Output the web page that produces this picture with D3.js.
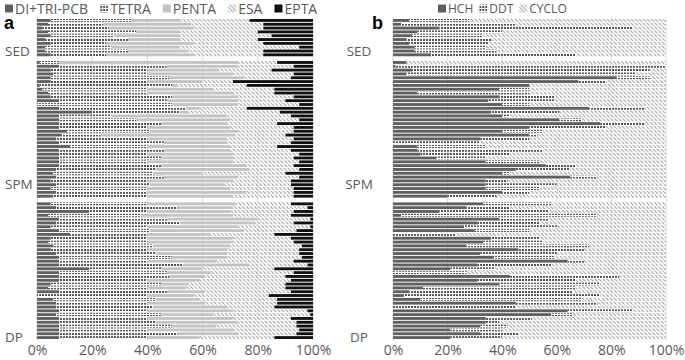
<!DOCTYPE html>
<html>
<head>
<meta charset="utf-8">
<script src="https://cdn.jsdelivr.net/npm/d3@7"></script>
<style>
  body { margin: 0; background: #fff; }
  text { font-family: "Open Sans", sans-serif; fill: #595959; }
</style>
</head>
<body>
<svg id="chart" width="685" height="360"></svg>
<script>
// Sample groups (top to bottom) and how many samples each one holds
const groups = ['SED', 'SPM', 'DP'];
const groupSizes = [10, 36, 36];
// row of each group that carries the category label
const labelRowIndex = [8, 32, 35];

// Panel a: PCB homologue shares (%), one value per sample, top to bottom
const pcbKeys = ['DI+TRI-PCB', 'TETRA', 'PENTA', 'ESA', 'EPTA'];
const diTri = [
  5, 4, 2, 4, 5, 3, 5, 3, 3, 5,
  1, 8, 5, 6, 5, 5, 1, 2, 4, 5, 8, 0, 8, 20, 8, 8, 8, 8, 11, 9, 7, 8, 12, 8, 8, 8, 8, 8, 7, 6, 7, 5, 7, 5, 7, 6,
  5, 7, 19, 4, 8, 7, 5, 8, 12, 5, 4, 6, 5, 7, 8, 8, 8, 19, 8, 8, 8, 5, 4, 8, 0, 6, 7, 7, 8, 7, 8, 8, 8, 8, 8, 8
];
const tetra = [
  29, 20, 24, 32, 23, 30, 20, 24, 30, 20,
  7, 39, 35, 34, 43, 35, 48, 38, 36, 44, 39, 49, 46, 32, 19, 28, 37, 32, 30, 14, 33, 38, 28, 38, 32, 37, 32, 37, 36, 36, 39, 35, 34, 35, 33, 34,
  35, 44, 21, 34, 39, 45, 35, 33, 28, 35, 36, 36, 35, 36, 41, 32, 45, 26, 39, 40, 32, 40, 36, 39, 40, 37, 33, 35, 32, 38, 32, 35, 41, 32, 43, 32
];
const penta = [
  18, 32, 31, 16, 24, 19, 32, 25, 22, 32,
  65, 26, 26, 31, 27, 20, 2, 24, 31, 24, 26, 24, 5, 3, 42, 34, 24, 30, 32, 49, 29, 23, 30, 24, 31, 26, 31, 31, 34, 18, 27, 31, 27, 30, 36, 31,
  32, 20, 30, 33, 33, 27, 33, 34, 23, 31, 31, 28, 29, 26, 20, 25, 24, 15, 16, 13, 19, 10, 14, 14, 17, 16, 21, 27, 31, 19, 31, 30, 16, 31, 22, 19
];
const esa = [
  25, 26, 25, 28, 33, 28, 25, 43, 27, 25,
  14, 20, 19, 22, 17, 11, 25, 22, 15, 20, 17, 22, 17, 33, 23, 25, 18, 23, 20, 18, 24, 23, 17, 22, 24, 22, 24, 17, 18, 30, 22, 21, 24, 23, 17, 22,
  20, 27, 23, 21, 19, 14, 26, 19, 23, 21, 22, 26, 26, 26, 27, 28, 21, 26, 30, 29, 33, 35, 36, 31, 27, 28, 26, 17, 27, 35, 21, 21, 29, 24, 21, 27
];
const epta = [
  23, 18, 18, 20, 15, 20, 18, 5, 18, 18,
  13, 7, 15, 7, 8, 29, 24, 14, 14, 7, 10, 5, 24, 12, 8, 5, 13, 7, 7, 10, 7, 8, 13, 8, 5, 7, 5, 7, 5, 10, 5, 8, 8, 7, 7, 7,
  8, 2, 7, 8, 1, 7, 1, 6, 14, 8, 7, 4, 5, 5, 4, 7, 2, 14, 7, 10, 8, 10, 10, 8, 16, 13, 13, 14, 2, 1, 8, 6, 6, 5, 6, 14
];

// Panel b: organochlorine pesticide shares (%)
const ocpKeys = ['HCH', 'DDT', 'CYCLO'];
const hch = [
  6, 3, 17, 9, 7, 5, 6, 8, 8, 14,
  5, 1, 7, 5, 82, 68, 50, 39, 9, 39, 35, 40, 72, 36, 40, 61, 76, 50, 40, 50, 32, 0, 9, 9, 10, 16, 34, 56, 45, 40, 65, 34, 34, 34, 40, 20,
  33, 27, 17, 3, 39, 31, 26, 30, 0, 36, 33, 27, 46, 32, 37, 64, 31, 21, 0, 43, 31, 39, 11, 6, 4, 10, 45, 0, 64, 58, 34, 34, 32, 21, 32, 21
];
const ddt = [
  22, 42, 71, 31, 26, 31, 29, 26, 30, 53,
  0, 99, 87, 84, 12, 10, 0, 11, 41, 20, 24, 10, 20, 25, 3, 8, 16, 28, 15, 3, 18, 32, 25, 46, 33, 18, 20, 11, 20, 3, 10, 8, 26, 20, 10, 18,
  25, 16, 40, 72, 18, 23, 34, 20, 23, 18, 22, 45, 24, 28, 22, 6, 27, 16, 27, 40, 36, 37, 56, 60, 72, 59, 30, 45, 24, 8, 17, 5, 10, 19, 14, 19
];
const cyclo = [
  72, 55, 12, 60, 67, 64, 65, 66, 62, 33,
  95, 0, 6, 11, 6, 22, 50, 50, 50, 41, 41, 50, 8, 39, 57, 31, 8, 22, 45, 47, 50, 68, 66, 45, 57, 66, 46, 33, 35, 57, 25, 58, 40, 46, 50, 62,
  42, 57, 43, 25, 43, 46, 40, 50, 77, 46, 45, 28, 30, 40, 41, 30, 42, 63, 73, 17, 33, 24, 33, 34, 24, 31, 25, 55, 12, 34, 49, 61, 58, 60, 54, 60
];

const xTicks = [0, 20, 40, 60, 80, 100];

// Build row ids, with one empty row between groups /////////////////////
const sampleIds = [];
const rowIds = [];
groups.forEach((g, gi) => {
  if (gi > 0) rowIds.push('gap' + gi);
  for (let i = 0; i < groupSizes[gi]; i++) {
    sampleIds.push(g + '-' + i);
    rowIds.push(g + '-' + i);
  }
});

const svg = d3.select('#chart');

// Patterns //////////////////////////////////////////////////////////////
const defs = svg.append('defs');

const dots = defs.append('pattern')
  .attr('id', 'dots')
  .attr('patternUnits', 'userSpaceOnUse')
  .attr('width', 3).attr('height', 3);
dots.append('rect').attr('width', 3).attr('height', 3).attr('fill', '#fff');
dots.append('rect').attr('width', 2).attr('height', 2).attr('fill', '#555');

const hatch = defs.append('pattern')
  .attr('id', 'hatch')
  .attr('patternUnits', 'userSpaceOnUse')
  .attr('width', 4).attr('height', 4);
hatch.append('rect').attr('width', 4).attr('height', 4).attr('fill', '#fff');
hatch.append('path')
  .attr('d', 'M0,0L4,4M-1,3L1,5M3,-1L5,1')
  .attr('stroke', '#a6a6a6')
  .attr('stroke-width', 1.1);

// Panels ////////////////////////////////////////////////////////////////
const y = d3.scaleBand()
  .domain(rowIds)
  .range([19, 339])
  .paddingInner(0.25);

const panels = [
  {
    letter: 'a', letterX: 4, x0: 37, x1: 313, keys: pcbKeys,
    values: [diTri, tetra, penta, esa, epta],
    fills: ['#5f5f5f', 'url(#dots)', '#c3c3c3', 'url(#hatch)', '#111'],
    legendStart: 5, legendFont: 14, legendGap: 12,
    labelX: 5, labelAnchor: 'start'
  },
  {
    letter: 'b', letterX: 372, x0: 393, x1: 666, keys: ocpKeys,
    values: [hch, ddt, cyclo],
    fills: ['#5f5f5f', 'url(#dots)', 'url(#hatch)'],
    legendStart: 438, legendFont: 12, legendGap: 6,
    labelX: 359, labelAnchor: 'middle'
  }
];

panels.forEach(p => {
  const x = d3.scaleLinear().domain([0, 100]).range([p.x0, p.x1]);
  const g = svg.append('g');

  // table the stack needs
  const table = sampleIds.map((id, i) => {
    const row = { id: id };
    p.keys.forEach((k, ki) => { row[k] = p.values[ki][i]; });
    return row;
  });
  const stacked = d3.stack().keys(p.keys)(table);

  // gridlines
  g.append('g').selectAll('line')
    .data(xTicks)
    .enter().append('line')
    .attr('x1', d => x(d)).attr('x2', d => x(d))
    .attr('y1', 17).attr('y2', 340)
    .attr('stroke', '#d9d9d9')
    .attr('stroke-width', 1);

  // bars
  g.append('g').selectAll('g')
    .data(stacked)
    .enter().append('g')
    .attr('fill', (d, i) => p.fills[i])
    .selectAll('rect')
    .data(d => d)
    .enter().append('rect')
    .attr('x', d => x(d[0]))
    .attr('width', d => x(d[1]) - x(d[0]))
    .attr('y', d => y(d.data.id))
    .attr('height', y.bandwidth());

  // x axis
  const xAxis = g.append('g')
    .attr('transform', 'translate(0,340)')
    .call(d3.axisBottom(x).tickValues(xTicks).tickFormat(d => d + '%').tickSize(0).tickPadding(5));
  xAxis.select('.domain').remove();
  xAxis.selectAll('text')
    .style('font-family', '"Open Sans", sans-serif')
    .style('font-size', '14px')
    .attr('fill', '#595959');

  // group labels
  g.append('g').selectAll('text')
    .data(groups)
    .enter().append('text')
    .attr('x', p.labelX)
    .attr('y', (d, i) => y(d + '-' + labelRowIndex[i]) + y.bandwidth() / 2)
    .attr('dy', '0.35em')
    .attr('text-anchor', p.labelAnchor)
    .style('font-size', '13.5px')
    .text(d => d);

  // panel letter
  g.append('text')
    .attr('x', p.letterX)
    .attr('y', 29)
    .style('font-family', '"Liberation Sans", Arial, sans-serif')
    .style('font-weight', 'bold')
    .style('font-size', '18px')
    .style('fill', '#000')
    .text(p.letter);

  // legend, laid out left to right from the text widths
  let lx = p.legendStart;
  p.keys.forEach((k, i) => {
    const item = g.append('g').attr('transform', 'translate(' + lx + ',3)');
    item.append('rect')
      .attr('x', 0).attr('y', 1.5)
      .attr('width', 8).attr('height', 8)
      .attr('fill', p.fills[i]);
    const t = item.append('text')
      .attr('x', 10)
      .attr('y', 6)
      .attr('dy', '0.35em')
      .style('font-size', p.legendFont + 'px')
      .text(k);
    lx += 10 + t.node().getComputedTextLength() + p.legendGap;
  });
});
</script>
</body>
</html>
